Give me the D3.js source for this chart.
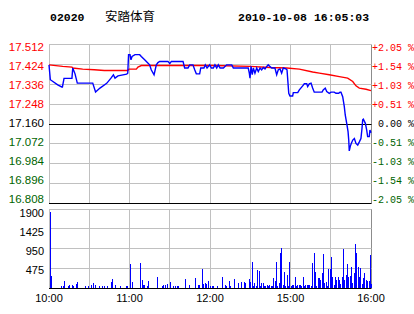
<!DOCTYPE html>
<html>
<head>
<meta charset="utf-8">
<script src="https://cdn.jsdelivr.net/npm/d3@7"></script>
<style>
body { margin: 0; background: #fff; }
svg { display: block; }
</style>
</head>
<body>
<div id="chart"></div>
<script>
// Tamaño del lienzo
var width = 414;
var height = 314;

// Cabecera
var stockCode = "02020";
var stockName = "安踏体育";
var stamp = "2010-10-08 16:05:03";

// Cierre anterior y marcas del eje de precios
var prevClose = 17.160;
var priceTicks = [17.512, 17.424, 17.336, 17.248, 17.160, 17.072, 16.984, 16.896, 16.808];
var pctTicks = ["+2.05 %", "+1.54 %", "+1.03 %", "+0.51 %", " 0.00 %", "-0.51 %", "-1.03 %", "-1.54 %", "-2.05 %"];
var volTicks = [1900, 1425, 950, 475];

// Minutos desde la apertura (10:00-12:30, 14:30-16:00)
var timeTicks = [0, 60, 120, 180, 240];
var timeLabels = ["10:00", "11:00", "12:00", "15:00", "16:00"];

// Precio (linea azul)
var priceMin = [0, 1, 6.5, 9.5, 10, 11.2, 17.1, 17.7, 19.4, 21.1, 32.6, 34.7, 38, 43, 46.2, 48, 49.2, 51.4, 57.9, 58.7,
  59.3, 60.4, 61.1, 61.9, 64.1, 67.6, 68.8, 71.3, 73.3, 75, 76.2, 78.3, 80, 81.2, 82.5, 88.7, 90, 91.2, 99.9, 101.1,
  103.6, 104.9, 107.3, 108.6, 109.8, 112.3, 113.1, 115.5, 116.5, 117.8, 119.8, 121, 122.5, 123.7, 125, 126.2, 127.5, 130, 132.4, 136.2,
  137.4, 148.5, 149.3, 149.8, 150.6, 151.5, 152.3, 153.5, 154.8, 156, 157.3, 158.5, 159.7, 161, 162.3, 163.4, 164.7, 166, 168.4, 169.7,
  170.9, 172.2, 173.4, 174.6, 176.6, 177.4, 178.7, 179.6, 181.6, 182.1, 185.4, 186.6, 189.1, 190.3, 192.1, 192.8, 194, 195.3, 196.5, 197.7,
  203.5, 204.4, 205.9, 207, 208.9, 210.2, 212.6, 213.9, 215.9, 216.9, 217.6, 218.9, 220.1, 220.8, 221.9, 222.9, 223.4, 223.8, 224.6, 225.3,
  226.4, 227.6, 228.8, 230.1, 231.3, 232.5, 233.3, 233.8, 234.3, 235.8, 236.8, 237.5, 238.7, 239.2, 240];
var price = [17.422, 17.356, 17.333, 17.324, 17.324, 17.362, 17.362, 17.408, 17.382, 17.341, 17.341, 17.302, 17.319, 17.340, 17.363, 17.378, 17.363, 17.373, 17.381, 17.385,
  17.467, 17.467, 17.444, 17.459, 17.467, 17.467, 17.459, 17.444, 17.432, 17.422, 17.400, 17.378, 17.422, 17.432, 17.437, 17.437, 17.427, 17.437, 17.437, 17.408,
  17.408, 17.422, 17.422, 17.400, 17.382, 17.382, 17.408, 17.408, 17.422, 17.408, 17.422, 17.408, 17.408, 17.422, 17.408, 17.422, 17.408, 17.408, 17.422, 17.422,
  17.408, 17.408, 17.385, 17.363, 17.415, 17.378, 17.408, 17.385, 17.408, 17.392, 17.408, 17.400, 17.410, 17.404, 17.415, 17.422, 17.415, 17.408, 17.408, 17.378,
  17.400, 17.404, 17.385, 17.408, 17.404, 17.400, 17.296, 17.284, 17.284, 17.299, 17.299, 17.311, 17.329, 17.338, 17.338, 17.326, 17.338, 17.341, 17.319, 17.301,
  17.301, 17.311, 17.319, 17.304, 17.296, 17.301, 17.301, 17.296, 17.296, 17.301, 17.301, 17.281, 17.237, 17.200, 17.163, 17.126, 17.089, 17.041, 17.062, 17.074,
  17.089, 17.096, 17.074, 17.067, 17.081, 17.096, 17.141, 17.178, 17.181, 17.163, 17.133, 17.104, 17.104, 17.133, 17.121];

// Precio medio (linea roja)
var avgMin = [0, 10.2, 17.1, 17.7, 25.1, 33.8, 41.2, 58.7, 59.6, 65.1, 66.3, 68.8, 122.2, 149.8, 164.7, 177.2, 186.6, 196.5, 201.5, 208.9,
  216.4, 222.6, 226.4, 228.8, 231.3, 236.3, 240];
var avgPrice = [17.422, 17.415, 17.412, 17.408, 17.403, 17.400, 17.397, 17.397, 17.403, 17.403, 17.412, 17.419, 17.419, 17.415, 17.410, 17.408, 17.403, 17.390, 17.385, 17.378,
  17.370, 17.363, 17.348, 17.329, 17.319, 17.314, 17.308];

// Volumen por minuto (0..240)
var volume = [
  1820, 290, 0, 0, 0, 0, 0, 0, 0, 50,
  60, 180, 0, 0, 60, 70, 0, 70, 60, 0,
  90, 145, 0, 0, 0, 0, 0, 50, 0, 50,
  0, 70, 0, 110, 70, 0, 0, 60, 0, 60,
  0, 40, 0, 50, 0, 0, 150, 210, 0, 70,
  0, 0, 0, 50, 0, 0, 0, 50, 60, 0,
  580, 0, 145, 0, 0, 0, 0, 0, 610, 195,
  70, 70, 0, 60, 175, 0, 0, 0, 0, 0,
  260, 0, 0, 0, 60, 70, 70, 0, 90, 0,
  150, 0, 60, 0, 60, 60, 50, 0, 0, 0,
  0, 215, 0, 0, 70, 0, 0, 0, 0, 250,
  0, 70, 70, 0, 460, 100, 110, 90, 160, 0,
  50, 50, 50, 0, 0, 60, 0, 0, 0, 265,
  0, 70, 60, 0, 175, 60, 0, 0, 215, 0,
  0, 110, 0, 140, 0, 150, 110, 0, 0, 210,
  140, 635, 50, 130, 40, 435, 410, 50, 110, 110,
  40, 50, 70, 40, 70, 50, 40, 235, 170, 635,
  50, 110, 835, 960, 70, 395, 60, 315, 50, 635,
  40, 70, 70, 260, 50, 70, 70, 70, 40, 275,
  50, 70, 70, 70, 70, 40, 610, 835, 395, 60,
  250, 235, 195, 355, 820, 110, 155, 60, 460, 460,
  755, 275, 80, 260, 195, 275, 195, 90, 260, 940,
  195, 315, 570, 275, 290, 515, 120, 370, 1070, 850,
  515, 275, 475, 90, 235, 370, 195, 170, 180, 795,
  100];

var red = "#ff0000", green = "#006400", grid = "#c0c0c0";

var svg = d3.select("#chart")
    .append("svg")
    .attr("width", width)
    .attr("height", height)
    .style("font-family", "'Liberation Sans', Arial, sans-serif");

// Escalas
var x = d3.scaleLinear().domain([0, 240]).range([49, 371]);
var y = d3.scaleLinear().domain([16.808, 17.512]).range([203.5, 44.5]);
var vy = d3.scaleLinear().domain([0, 1900]).range([288, 209]);
// las etiquetas quedan un poco dentro del panel
var yLab = d3.scaleLinear().domain([0, priceTicks.length - 1]).range([47.3, 199.3]);
var vLab = d3.scaleLinear().domain([0, volTicks.length - 1]).range([213.3, 270]);

function crisp(v) { return Math.floor(v) + 0.5; }

// Cabecera
var head = svg.append("g").style("font-family", "'Liberation Mono', 'DejaVu Sans Mono', monospace")
    .style("font-weight", "bold").style("font-size", "11.5px");
head.append("text").attr("x", 50).attr("y", 20.5).text(stockCode);
head.append("text").attr("x", 238).attr("y", 20.5).text(stamp);
svg.append("text").attr("x", 105).attr("y", 20.5)
    .style("font-family", "'Noto Sans CJK SC', sans-serif").style("font-size", "12.5px")
    .text(stockName);

// Rejilla vertical (cada media hora)
var halfHours = d3.range(0, 241, 30);
[[44.5, 203.5], [209, 288]].forEach(function (r) {
    svg.append("g").selectAll("line")
        .data(halfHours)
        .enter()
        .append("line")
        .attr("x1", function (d) { return crisp(x(d)); })
        .attr("x2", function (d) { return crisp(x(d)); })
        .attr("y1", r[0])
        .attr("y2", r[1])
        .attr("stroke", function (d) { return d === 240 ? "#8c8c8c" : grid; });
});

// Rejilla horizontal de precios
svg.append("g").selectAll("line")
    .data(priceTicks)
    .enter()
    .append("line")
    .attr("x1", x(0))
    .attr("x2", x(240) + 0.5)
    .attr("y1", function (d) { return crisp(y(d)); })
    .attr("y2", function (d) { return crisp(y(d)); })
    .attr("stroke", function (d, i) { return (d === prevClose || i === priceTicks.length - 1) ? "#000" : grid; });

// Rejilla horizontal de volumen
svg.append("g").selectAll("line")
    .data(volTicks.concat([0]))
    .enter()
    .append("line")
    .attr("x1", x(0))
    .attr("x2", x(240) + 0.5)
    .attr("y1", function (d) { return crisp(vy(d)); })
    .attr("y2", function (d) { return crisp(vy(d)); })
    .attr("stroke", function (d) { return d === 0 ? "#000" : grid; });

// Barras de volumen (1 px por minuto)
svg.append("g").selectAll("rect")
    .data(volume.map(function (v, i) { return { m: i, v: v }; }).filter(function (d) { return d.v > 0; }))
    .enter()
    .append("rect")
    .attr("x", function (d) { return Math.max(x(0) + 1, Math.floor(x(d.m) + 0.7)); })
    .attr("y", function (d) { return Math.round(vy(d.v)); })
    .attr("width", 1)
    .attr("height", function (d) { return 288 - Math.round(vy(d.v)); })
    .attr("fill", "#0000ff")
    .attr("shape-rendering", "crispEdges");

// Lineas de precio
var line = d3.line()
    .x(function (d) { return x(d[0]); })
    .y(function (d) { return y(d[1]); });

svg.append("path")
    .datum(avgMin.map(function (m, i) { return [m, avgPrice[i]]; }))
    .attr("d", line)
    .attr("fill", "none")
    .attr("stroke", red)
    .attr("stroke-width", 1.4);

svg.append("path")
    .datum(priceMin.map(function (m, i) { return [m, price[i]]; }))
    .attr("d", line)
    .attr("fill", "none")
    .attr("stroke", "#0000ff")
    .attr("stroke-width", 1.4);

// Etiquetas de precio (izquierda) y porcentaje (derecha)
function tickColor(i) {
    var mid = priceTicks.indexOf(prevClose);
    return i < mid ? red : (i === mid ? "#000" : green);
}

svg.append("g").selectAll("text")
    .data(priceTicks)
    .enter()
    .append("text")
    .attr("x", 44)
    .attr("y", function (d, i) { return yLab(i); })
    .attr("dy", "0.36em")
    .attr("text-anchor", "end")
    .style("font-size", "11.5px")
    .attr("fill", function (d, i) { return tickColor(i); })
    .text(function (d) { return d.toFixed(3); });

svg.append("g").selectAll("text")
    .data(pctTicks)
    .enter()
    .append("text")
    .attr("x", 372)
    .attr("y", function (d, i) { return yLab(i); })
    .attr("dy", "0.36em")
    .style("font-family", "'Liberation Mono', 'DejaVu Sans Mono', monospace")
    .style("font-size", "10px")
    .style("white-space", "pre")
    .attr("fill", function (d, i) { return tickColor(i); })
    .text(function (d) { return d; });

// Etiquetas de volumen
svg.append("g").selectAll("text")
    .data(volTicks)
    .enter()
    .append("text")
    .attr("x", 44)
    .attr("y", function (d, i) { return vLab(i); })
    .attr("dy", "0.36em")
    .attr("text-anchor", "end")
    .style("font-size", "11px")
    .text(function (d) { return d; });

// Etiquetas de tiempo
svg.append("g").selectAll("text")
    .data(timeTicks)
    .enter()
    .append("text")
    .attr("x", function (d) { return x(d); })
    .attr("y", 298.3)
    .attr("dy", "0.36em")
    .attr("text-anchor", "middle")
    .style("font-size", "11px")
    .text(function (d, i) { return timeLabels[i]; });
</script>
</body>
</html>
